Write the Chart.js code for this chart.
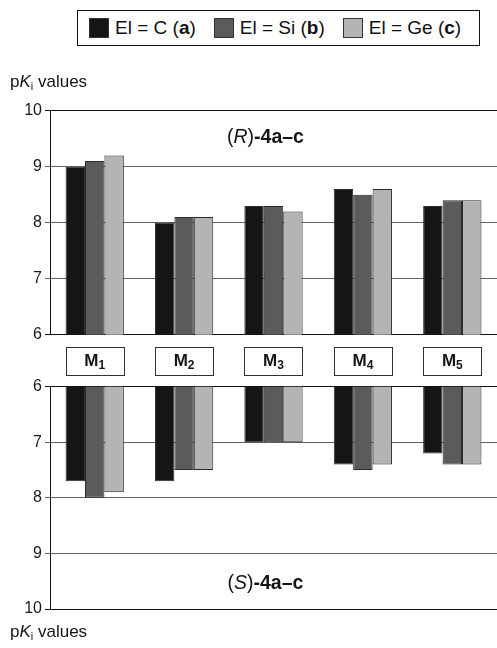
<!DOCTYPE html>
<html>
<head>
<meta charset="utf-8">
<script src="https://cdn.jsdelivr.net/npm/chart.js@4/dist/chart.umd.min.js"></script>
<style>
  html, body { margin: 0; padding: 0; background: #fff; }
  body { width: 497px; height: 648px; position: relative; overflow: hidden;
         font-family: "Liberation Sans", Arial, sans-serif; color: #111; }
  #legend { position: absolute; left: 77px; top: 10px; width: 390px; height: 34px;
            border: 1px solid #111; display: flex; align-items: center;
            padding-left: 11px; box-sizing: content-box; font-size: 19px; }
  #legend .item { display: flex; align-items: center; margin-right: 18px; white-space: nowrap; }
  #legend .sw { width: 20px; height: 20px; border: 1px solid #333; margin-right: 6px; box-sizing: border-box; }
  canvas { position: absolute; left: 0; }
  #top { top: 60px; }
  #bottom { top: 340px; }
</style>
</head>
<body>
<div id="legend"></div>
<canvas id="top" width="497" height="290"></canvas>
<canvas id="bottom" width="497" height="308"></canvas>
<script>
// Receptor subtypes (M + subscript number)
const receptors = ['M1', 'M2', 'M3', 'M4', 'M5'];
// Silicon-switch series: El = C / Si / Ge, compound letters a / b / c
const elements = ['C', 'Si', 'Ge'];
const compoundLetters = ['a', 'b', 'c'];
const seriesColors = ['#151515', '#5b5b5b', '#b4b4b4'];
// pKi values of the (R)-enantiomers
const rC  = [9.0, 8.0, 8.3, 8.6, 8.3];
const rSi = [9.1, 8.1, 8.3, 8.5, 8.4];
const rGe = [9.2, 8.1, 8.2, 8.6, 8.4];
// pKi values of the (S)-enantiomers
const sC  = [7.7, 7.7, 7.0, 7.4, 7.2];
const sSi = [8.0, 7.5, 7.0, 7.5, 7.4];
const sGe = [7.9, 7.5, 7.0, 7.4, 7.4];
// value axis ticks
const tickValues = [6, 7, 8, 9, 10];

const FONT = '"Liberation Sans", Arial, sans-serif';

// HTML legend
const legend = document.getElementById('legend');
elements.forEach((el, i) => {
  const item = document.createElement('div');
  item.className = 'item';
  item.innerHTML = '<span class="sw" style="background:' + seriesColors[i] + '"></span>' +
    '<span>El = ' + el + ' (<b>' + compoundLetters[i] + '</b>)</span>';
  legend.appendChild(item);
});

// draws a sequence of differently styled text runs
function drawRuns(ctx, x, y, runs, align) {
  let total = 0;
  runs.forEach(r => { ctx.font = r.font; r.w = ctx.measureText(r.text).width; total += r.w; });
  let cx = align === 'center' ? x - total / 2 : x;
  ctx.textBaseline = 'alphabetic';
  ctx.textAlign = 'left';
  runs.forEach(r => {
    ctx.font = r.font;
    ctx.fillText(r.text, cx, y + (r.dy || 0));
    cx += r.w;
  });
}

function pkiRuns() {
  return [
    { text: 'p', font: '17px ' + FONT },
    { text: 'K', font: 'italic 17px ' + FONT },
    { text: 'i', font: '11px ' + FONT, dy: 3 },
    { text: ' values', font: '17px ' + FONT }
  ];
}

function enantiomerRuns(letter) {
  return [
    { text: '(', font: '19.5px ' + FONT },
    { text: letter, font: 'italic 19.5px ' + FONT },
    { text: ')', font: '19.5px ' + FONT },
    { text: '-4a\u2013c', font: 'bold 19.5px ' + FONT }
  ];
}

const textPlugin = {
  id: 'panelText',
  afterDraw(chart, args, opts) {
    const ctx = chart.ctx;
    const area = chart.chartArea;
    ctx.save();
    ctx.fillStyle = '#151515';
    // enantiomer caption inside the plot area
    drawRuns(ctx, area.left + area.width * 0.482, opts.captionY, enantiomerRuns(opts.letter), 'center');
    // axis title
    drawRuns(ctx, 10, opts.titleY, pkiRuns(), 'left');
    // receptor boxes above the lower panel
    if (opts.boxes) {
      const meta = chart.getDatasetMeta(0);
      const meta2 = chart.getDatasetMeta(2);
      receptors.forEach((name, i) => {
        const l = meta.data[i].x - meta.data[i].width / 2;
        const r = meta2.data[i].x + meta2.data[i].width / 2;
        const top = opts.boxTop, h = opts.boxHeight;
        ctx.fillStyle = '#fff';
        ctx.fillRect(l, top, r - l, h);
        ctx.strokeStyle = '#333';
        ctx.lineWidth = 1;
        ctx.strokeRect(Math.round(l) + 0.5, Math.round(top) + 0.5, Math.round(r - l), Math.round(h));
        ctx.fillStyle = '#151515';
        drawRuns(ctx, (l + r) / 2, top + h / 2 + 6, [
          { text: name.charAt(0), font: 'bold 17px ' + FONT },
          { text: name.slice(1), font: 'bold 12px ' + FONT, dy: 3 }
        ], 'center');
      });
    }
    ctx.restore();
  }
};

function gridColor(c) {
  const v = c.tick ? c.tick.value : null;
  return (v === 6 || v === 10) ? '#111' : '#626262';
}

function makeOptions(reverse, padding, textOpts) {
  return {
    responsive: false,
    animation: false,
    events: [],
    layout: { padding: padding },
    datasets: { bar: { categoryPercentage: 0.652, barPercentage: 1.0, borderWidth: 1, borderColor: '#2b2b2b' } },
    plugins: { legend: { display: false }, tooltip: { enabled: false }, panelText: textOpts },
    scales: {
      x: { type: 'category', display: false, offset: true, grid: { display: false } },
      y: {
        type: 'linear', min: 6, max: 10, reverse: reverse,
        afterBuildTicks: s => { s.ticks = tickValues.map(v => ({ value: v })); },
        afterFit: s => { s.width = 50; },
        ticks: { color: '#1a1a1a', padding: 3, font: { family: FONT, size: 16 } },
        grid: { color: gridColor, lineWidth: 1, tickLength: 5, tickColor: gridColor },
        border: { display: true, color: '#111', width: 1 }
      }
    }
  };
}

function datasets(a, b, c) {
  return [a, b, c].map((d, i) => ({
    label: 'El = ' + elements[i] + ' (' + compoundLetters[i] + ')',
    data: d,
    backgroundColor: seriesColors[i]
  }));
}

new Chart(document.getElementById('top'), {
  type: 'bar',
  data: { labels: receptors, datasets: datasets(rC, rSi, rGe) },
  options: makeOptions(false, { top: 50.7, bottom: 15.3, left: 0, right: 0 },
    { letter: 'R', captionY: 83, titleY: 26.5, boxes: false }),
  plugins: [textPlugin]
});

new Chart(document.getElementById('bottom'), {
  type: 'bar',
  data: { labels: receptors, datasets: datasets(sC, sSi, sGe) },
  options: makeOptions(true, { top: 46.7, bottom: 39, left: 0, right: 0 },
    { letter: 'S', captionY: 249, titleY: 296.5, boxes: true, boxTop: 6.7, boxHeight: 27.5 }),
  plugins: [textPlugin]
});
</script>
</body>
</html>
